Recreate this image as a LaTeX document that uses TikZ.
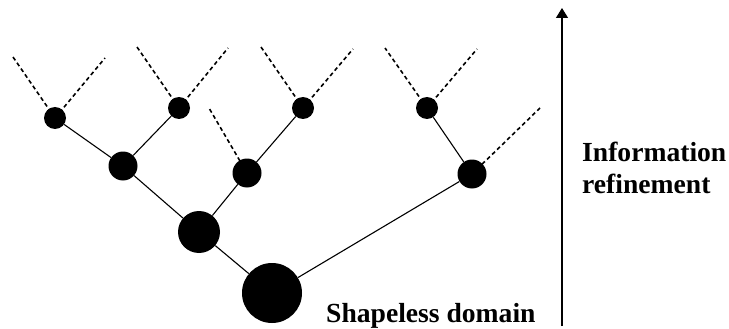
\documentclass[tikz,border=0pt]{standalone}
\usepackage{fontspec}
\setmainfont{Liberation Serif}
\usetikzlibrary{arrows.meta}
\begin{document}
\begin{tikzpicture}[x=1pt,y=-1pt,
  dot/.style={circle,fill=black,draw=none,inner sep=0pt,minimum size=#1},
  edge/.style={line width=1.1pt},
  dashedge/.style={line width=1.6pt,dash pattern=on 4pt off 3pt},
  lbl/.style={font=\bfseries\fontsize{27.6}{32}\selectfont,inner sep=0pt}]
\useasboundingbox (0,0) rectangle (729,329);
% ends of dashed branches
\coordinate (e1) at (13,57);
\coordinate (e2) at (105,58);
\coordinate (e3) at (137,47);
\coordinate (e4) at (228,48);
\coordinate (e5) at (209,108);
\coordinate (e6) at (261,47);
\coordinate (e7) at (353,49);
\coordinate (e8) at (385,48);
\coordinate (e9) at (477,49);
\coordinate (e10) at (540,108);
% dashed branches (drawn under nodes)
\draw[dashedge] (55,118) coordinate (c1a) -- (e1);
\draw[dashedge] (c1a) -- (e2);
\draw[dashedge] (179,108) coordinate (c2a) -- (e3);
\draw[dashedge] (c2a) -- (e4);
\draw[dashedge] (247,173) coordinate (b2a) -- (e5);
\draw[dashedge] (303,108) coordinate (c3a) -- (e6);
\draw[dashedge] (c3a) -- (e7);
\draw[dashedge] (427,108) coordinate (c4a) -- (e8);
\draw[dashedge] (c4a) -- (e9);
\draw[dashedge] (472,174) coordinate (ra) -- (e10);
% nodes
\node[dot=60pt] (root) at (272,293) {};
\node[dot=42pt] (A) at (199,232) {};
\node[dot=29pt] (R) at (472,174) {};
\node[dot=29pt] (B1) at (123,166) {};
\node[dot=29pt] (B2) at (247,173) {};
\node[dot=22pt] (C1) at (55,118) {};
\node[dot=22pt] (C2) at (179,108) {};
\node[dot=22pt] (C3) at (303,108) {};
\node[dot=22pt] (C4) at (427,108) {};
% solid edges
\draw[edge] (root) -- (A);
\draw[edge] (root) -- (R);
\draw[edge] (A) -- (B1);
\draw[edge] (A) -- (B2);
\draw[edge] (B1) -- (C1);
\draw[edge] (B1) -- (C2);
\draw[edge] (B2) -- (C3);
\draw[edge] (R) -- (C4);
% arrow
\coordinate (abot) at (562,326);
\coordinate (atop) at (562,8);
\draw[line width=1.3pt,-{Triangle[length=10pt,width=12pt]}] (abot) -- (atop);
% labels
\node[lbl,anchor=base west] (sd) at (326,322) {Shapeless domain};
\node[lbl,anchor=base west] (inf) at (582,161) {Information};
\node[lbl,anchor=base west] (ref) at (582,193) {refinement};
\end{tikzpicture}
\end{document}
